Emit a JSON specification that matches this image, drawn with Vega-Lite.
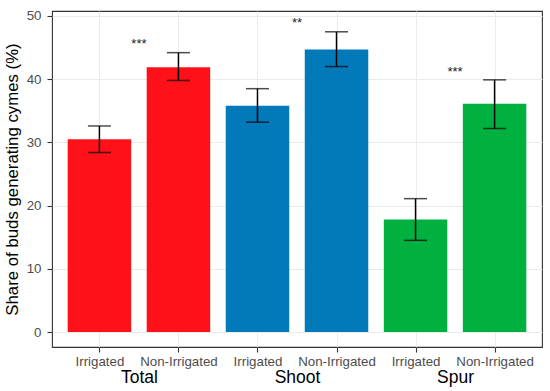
{
  "$schema": "https://vega.github.io/schema/vega-lite/v6.json",
  "width": 490,
  "height": 336,
  "autosize": {"type": "none"},
  "padding": {"left": 52, "top": 11, "right": 8, "bottom": 44},
  "background": "white",
  "config": {
    "font": "Liberation Sans",
    "view": {"stroke": "#333333", "strokeWidth": 1.1}
  },
  "datasets": {
    "bars": [
      {"pos": 1, "group": "Total", "treatment": "Irrigated", "share": 30.5, "lo": 28.4, "hi": 32.6},
      {"pos": 2, "group": "Total", "treatment": "Non-Irrigated", "share": 41.9, "lo": 39.8, "hi": 44.2},
      {"pos": 3, "group": "Shoot", "treatment": "Irrigated", "share": 35.8, "lo": 33.2, "hi": 38.5},
      {"pos": 4, "group": "Shoot", "treatment": "Non-Irrigated", "share": 44.7, "lo": 42.0, "hi": 47.5},
      {"pos": 5, "group": "Spur", "treatment": "Irrigated", "share": 17.8, "lo": 14.5, "hi": 21.1},
      {"pos": 6, "group": "Spur", "treatment": "Non-Irrigated", "share": 36.1, "lo": 32.2, "hi": 39.9}
    ],
    "stars": [
      {"mid": 1.5, "group": "Total", "sig": "***", "y": 45.6},
      {"mid": 3.5, "group": "Shoot", "sig": "**", "y": 48.9},
      {"mid": 5.5, "group": "Spur", "sig": "***", "y": 41.2}
    ]
  },
  "layer": [
    {
      "data": {"name": "bars"},
      "layer": [
        {
          "mark": {"type": "bar", "width": 63.5},
          "encoding": {
            "x": {
              "field": "pos", "type": "quantitative",
              "scale": {"domain": [0.4, 6.6], "nice": false, "zero": false, "padding": 0},
              "axis": {
                "values": [1, 2, 3, 4, 5, 6],
                "labelExpr": "datum.value % 2 == 1 ? 'Irrigated' : 'Non-Irrigated'",
                "title": null,
                "domain": false,
                "grid": true, "gridColor": "#ebebeb", "gridWidth": 1,
                "tickColor": "#333333", "tickSize": 5, "tickWidth": 1.1,
                "labelColor": "#4d4d4d", "labelFontSize": 13.3, "labelPadding": 2,
                "labelOverlap": false, "labelFlush": false
              }
            },
            "y": {
              "field": "share", "type": "quantitative",
              "scale": {"domain": [-2.37, 50.79], "nice": false, "zero": false, "padding": 0},
              "axis": {
                "values": [0, 5, 10, 15, 20, 25, 30, 35, 40, 45, 50],
                "labelExpr": "datum.value % 10 === 0 ? datum.label : ''",
                "title": "Share of buds generating cymes (%)",
                "titleFontSize": 16.8, "titleFontWeight": "normal", "titleColor": "black",
                "titlePadding": 5,
                "domain": false,
                "grid": true,
                "gridColor": "#ebebeb",
                "gridWidth": {"condition": {"test": "datum.value % 10 === 0", "value": 1.1}, "value": 0.6},
                "tickOpacity": {"condition": {"test": "datum.value % 10 === 0", "value": 1}, "value": 0},
                "tickColor": "#333333", "tickSize": 5, "tickWidth": 1.1,
                "labelColor": "#4d4d4d", "labelFontSize": 13.3, "labelPadding": 6,
                "labelOverlap": false
              }
            },
            "y2": {"datum": 0},
            "color": {
              "field": "group", "type": "nominal",
              "scale": {"domain": ["Total", "Shoot", "Spur"], "range": ["#fe1118", "#027ab9", "#00b13f"]},
              "legend": null
            }
          }
        },
        {
          "mark": {"type": "rule", "color": "black", "strokeWidth": 1.5},
          "encoding": {
            "x": {"field": "pos", "type": "quantitative"},
            "y": {"field": "lo", "type": "quantitative"},
            "y2": {"field": "hi"}
          }
        },
        {
          "mark": {"type": "tick", "orient": "horizontal", "color": "black", "size": 23, "thickness": 1.5},
          "encoding": {
            "x": {"field": "pos", "type": "quantitative"},
            "y": {"field": "lo", "type": "quantitative"}
          }
        },
        {
          "mark": {"type": "tick", "orient": "horizontal", "color": "black", "size": 23, "thickness": 1.5},
          "encoding": {
            "x": {"field": "pos", "type": "quantitative"},
            "y": {"field": "hi", "type": "quantitative"}
          }
        }
      ]
    },
    {
      "data": {"name": "stars"},
      "mark": {"type": "text", "fontSize": 13, "color": "#222222", "baseline": "middle", "align": "center"},
      "encoding": {
        "x": {
          "field": "mid", "type": "quantitative",
          "scale": {"domain": [0.4, 6.6], "nice": false, "zero": false, "padding": 0},
          "axis": {
            "orient": "bottom",
            "values": [1.5, 3.5, 5.5],
            "labelExpr": "datum.value == 1.5 ? 'Total' : datum.value == 3.5 ? 'Shoot' : 'Spur'",
            "title": null, "domain": false, "ticks": false, "grid": false,
            "labelColor": "black", "labelFontSize": 17.5, "labelPadding": 21,
            "labelOverlap": false, "labelFlush": false
          }
        },
        "y": {"field": "y", "type": "quantitative"},
        "text": {"field": "sig"}
      }
    }
  ],
  "resolve": {"scale": {"x": "independent"}}
}
